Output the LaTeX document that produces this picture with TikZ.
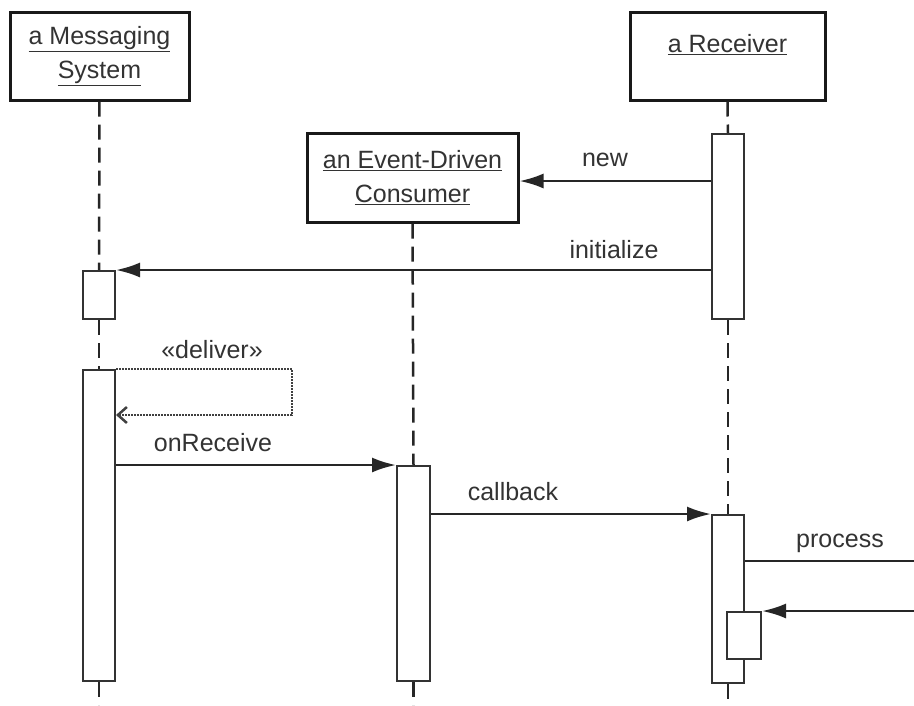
\documentclass[tikz,border=0pt]{standalone}
\usepackage{fontspec}
\setmainfont{Liberation Sans}
\usetikzlibrary{arrows.meta}
\begin{document}
\begin{tikzpicture}[x=1pt,y=-1pt,
  obj/.style={draw=black!90,line width=3pt,fill=white,inner sep=0pt,align=center,
    font=\fontsize{25}{34}\selectfont,text=black!80},
  act/.style={draw=black!80,line width=2pt,fill=white,minimum width=32pt,inner sep=0pt,anchor=north},
  life/.style={draw=black!85,line width=2.5pt,dash pattern=on 15pt off 8pt},
  msg/.style={draw=black!85,line width=2.5pt,-{Latex[length=24pt,width=15pt]}},
  selfmsg/.style={draw=black!75,line width=2pt,densely dotted,-{Straight Barb[length=9pt,width=16pt,line width=2.5pt]}},
  lbl/.style={font=\fontsize{25}{28}\selectfont,text=black!80,inner sep=0pt}]
\useasboundingbox (0,0) rectangle (914,705);
\fill[white] (0,0) rectangle (914,705);

% objects
\node[obj,minimum width=179pt,minimum height=88pt] (msys) at (99.5,56) {\underline{a Messaging}\\\underline{System}};
\node[obj,minimum width=195pt,minimum height=88pt] (recv) at (727.5,56) {};
\node[lbl] (recvlbl) at (727.5,45) {\underline{a Receiver}};
\node[obj,minimum width=211pt,minimum height=89pt] (cons) at (412.5,177.5) {\underline{an Event-Driven}\\\underline{Consumer}};

% end coordinates of lifelines
\coordinate (mEnd) at (99,705);
\coordinate (cEnd) at (413.5,705);
\coordinate (rEnd) at (728,705);

% activations (positions)
\node[act,minimum height=185pt] (r1) at (728,133) {};
\node[act,minimum height=48pt] (ms1) at (99,270) {};
\node[act,minimum height=311pt] (ms2) at (99,369) {};
\node[act,minimum height=215pt,minimum width=33pt] (c1) at (413.5,465) {};
\node[act,minimum height=168pt] (r2) at (728,514) {};
\node[act,minimum height=47pt,minimum width=34pt] (r3) at (744,611) {};

% lifelines
\draw[life] (msys.south) -- (ms1.north);
\draw[life] (ms1.south) -- (ms2.north);
\draw[life] (ms2.south) -- (mEnd);
\draw[life] (cons.south) -- (c1.north);
\draw[life] (c1.south) -- (cEnd);
\draw[life] (recv.south) -- (r1.north);
\draw[life] (r1.south) -- (r2.north);
\draw[life] (r2.south) -- (rEnd);

% redraw activations on top
\node[act,minimum height=185pt] at (728,133) {};
\node[act,minimum height=48pt] at (99,270) {};
\node[act,minimum height=311pt] at (99,369) {};
\node[act,minimum height=215pt,minimum width=33pt] at (413.5,465) {};
\node[act,minimum height=168pt] at (728,514) {};
\node[act,minimum height=47pt,minimum width=34pt] at (744,611) {};

% messages
\coordinate (newS) at ([yshift=-48pt]r1.north west);
\draw[msg] (newS) -- (cons.east |- newS);
\node[lbl] (newlbl) at (605,160) {new};

\draw[msg] (r1.west |- ms1.north) -- (ms1.north east);
\node[lbl] (initlbl) at (614,250) {initialize};

\coordinate (d1) at (292,369);
\coordinate (d2) at (292,415);
\draw[selfmsg] (ms2.north east) -- (d1) -- (d2) -- (ms2.east |- d2);
\node[lbl] (dellbl) at (212,350) {«deliver»};

\draw[msg] (ms2.east |- c1.north) -- (c1.north west);
\node[lbl] (onrlbl) at (213,443) {onReceive};

\draw[msg] (c1.east |- r2.north) -- (r2.north west);
\node[lbl] (cblbl) at (513,492) {callback};

\coordinate (pOut) at (914,561);
\draw[draw=black!85,line width=2.5pt] (r2.east |- pOut) -- (pOut);
\node[lbl] (proclbl) at (840,543) {process};

\coordinate (rIn) at (914,611);
\draw[msg] (rIn) -- (r3.north east);
\end{tikzpicture}
\end{document}
